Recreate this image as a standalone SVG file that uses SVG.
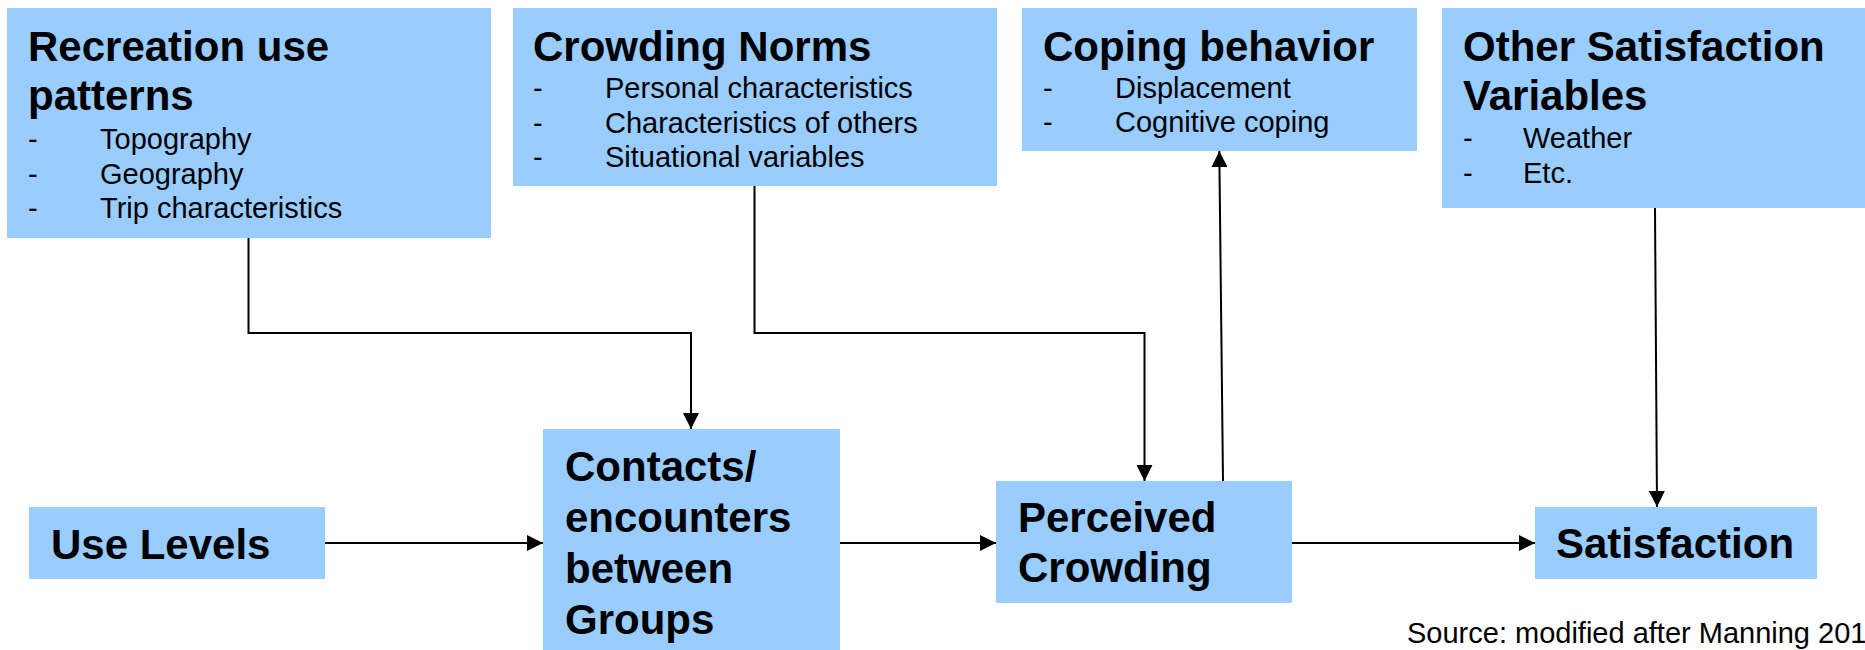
<svg xmlns="http://www.w3.org/2000/svg" width="1865" height="650" viewBox="0 0 1865 650">
  <style>
    .box { fill: #99CCFF; stroke: none; }
    .title { font-family: "Liberation Sans", Arial, sans-serif; font-weight: bold; font-size: 42px; fill: #000; }
    .item { font-family: "Liberation Sans", Arial, sans-serif; font-size: 29px; fill: #000; }
    .conn { fill: none; stroke: #000; stroke-width: 2; }
  </style>
  <defs>
    <marker id="arrow" viewBox="0 0 16 16" refX="16" refY="8" markerWidth="16" markerHeight="16" markerUnits="userSpaceOnUse" orient="auto">
      <path d="M0,0 L16,8 L0,16 z" fill="#000"/>
    </marker>
  </defs>
  <rect width="1865" height="650" fill="#fff"/>

  <g id="recreation">
    <rect class="box" x="7" y="8" width="484" height="230"/>
    <text class="title" x="28" y="61">Recreation use</text>
    <text class="title" x="28" y="110">patterns</text>
    <text class="item" x="28" y="149">-</text><text class="item" x="100" y="149">Topography</text>
    <text class="item" x="28" y="183.5">-</text><text class="item" x="100" y="183.5">Geography</text>
    <text class="item" x="28" y="218">-</text><text class="item" x="100" y="218">Trip characteristics</text>
  </g>

  <g id="norms">
    <rect class="box" x="513" y="8" width="484" height="178"/>
    <text class="title" x="533" y="61">Crowding Norms</text>
    <text class="item" x="533" y="97.5">-</text><text class="item" x="605" y="97.5">Personal characteristics</text>
    <text class="item" x="533" y="132.5">-</text><text class="item" x="605" y="132.5">Characteristics of others</text>
    <text class="item" x="533" y="167">-</text><text class="item" x="605" y="167">Situational variables</text>
  </g>

  <g id="coping">
    <rect class="box" x="1022" y="8" width="395" height="143"/>
    <text class="title" x="1043" y="61">Coping behavior</text>
    <text class="item" x="1043" y="97.5">-</text><text class="item" x="1115" y="97.5">Displacement</text>
    <text class="item" x="1043" y="131.5">-</text><text class="item" x="1115" y="131.5">Cognitive coping</text>
  </g>

  <g id="other">
    <rect class="box" x="1442" y="8" width="423" height="200"/>
    <text class="title" x="1463" y="61">Other Satisfaction</text>
    <text class="title" x="1463" y="110">Variables</text>
    <text class="item" x="1463" y="148">-</text><text class="item" x="1523" y="148">Weather</text>
    <text class="item" x="1463" y="183">-</text><text class="item" x="1523" y="183">Etc.</text>
  </g>

  <g id="uselevels">
    <rect class="box" x="29" y="507" width="296" height="72"/>
    <text class="title" x="51" y="559">Use Levels</text>
  </g>

  <g id="contacts">
    <rect class="box" x="543" y="429" width="297" height="221"/>
    <text class="title" x="565" y="481">Contacts/</text>
    <text class="title" x="565" y="532">encounters</text>
    <text class="title" x="565" y="583">between</text>
    <text class="title" x="565" y="634">Groups</text>
  </g>

  <g id="perceived">
    <rect class="box" x="996" y="481" width="296" height="122"/>
    <text class="title" x="1018" y="532">Perceived</text>
    <text class="title" x="1018" y="582">Crowding</text>
  </g>

  <g id="satisfaction">
    <rect class="box" x="1535" y="507" width="282" height="72"/>
    <text class="title" x="1556" y="558">Satisfaction</text>
  </g>

  <g id="connectors">
    <path class="conn" d="M248.5,238 V333 H691 V429" marker-end="url(#arrow)"/>
    <path class="conn" d="M754.5,186 V333 H1144.5 V481" marker-end="url(#arrow)"/>
    <path class="conn" d="M325,543 H543" marker-end="url(#arrow)"/>
    <path class="conn" d="M840,543 H996" marker-end="url(#arrow)"/>
    <path class="conn" d="M1292,543 H1535" marker-end="url(#arrow)"/>
    <path class="conn" d="M1223,481 L1219.3,151" marker-end="url(#arrow)"/>
    <path class="conn" d="M1655,208 L1657,507" marker-end="url(#arrow)"/>
  </g>

  <text id="source" class="item" x="1407" y="643">Source: modified after Manning 201</text>
</svg>
